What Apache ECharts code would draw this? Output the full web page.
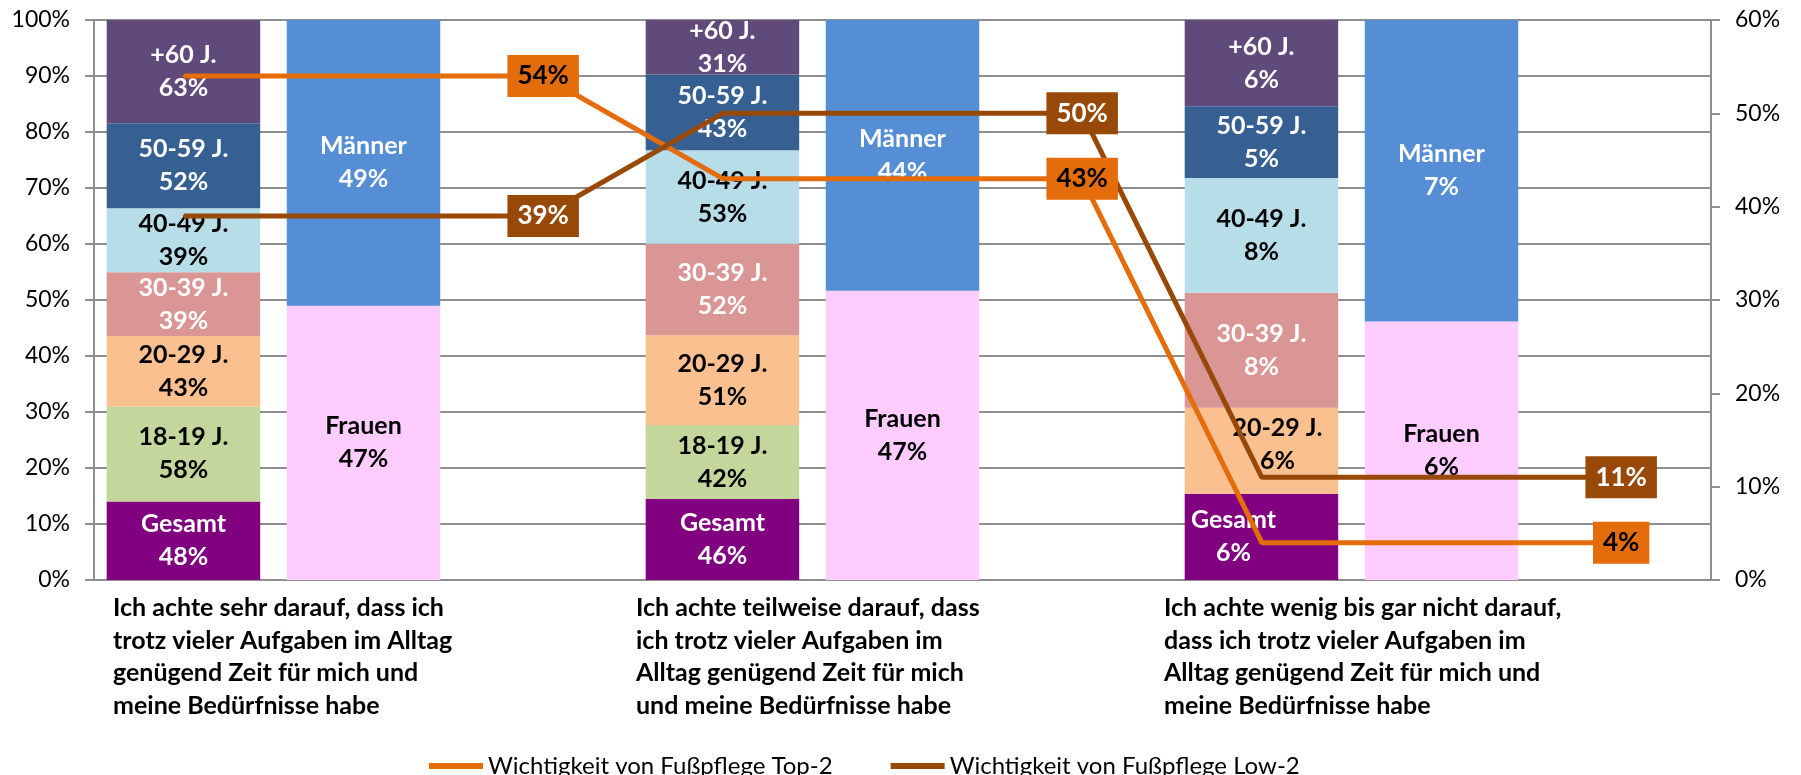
<!DOCTYPE html>
<html lang="de">
<head>
<meta charset="utf-8">
<title>Fußpflege – Zeit für mich</title>
<script src="https://cdn.jsdelivr.net/npm/echarts@6/dist/echarts.min.js"></script>
<style>
html, body { margin: 0; padding: 0; background: #fff; }
#main { width: 1801px; height: 775px; }
</style>
</head>
<body>
<div id="main"></div>
<script>
// Kategorien (Zeilenumbrüche wie im Original)
var categories = [
    'Ich achte sehr darauf, dass ich\ntrotz vieler Aufgaben im Alltag\ngenügend Zeit für mich und\nmeine Bedürfnisse habe',
    'Ich achte teilweise darauf, dass\nich trotz vieler Aufgaben im\nAlltag genügend Zeit für mich\nund meine Bedürfnisse habe',
    'Ich achte wenig bis gar nicht darauf,\ndass ich trotz vieler Aufgaben im\nAlltag genügend Zeit für mich und\nmeine Bedürfnisse habe'
];

// Altersgruppen, Werte = Beschriftung in %
var ageNames = ['Gesamt', '18-19 J.', '20-29 J.', '30-39 J.', '40-49 J.', '50-59 J.', '+60 J.'];
var gesamt  = [48, 46, 6];
var age1819 = [58, 42, null];
var age2029 = [43, 51, 6];
var age3039 = [39, 52, 8];
var age4049 = [39, 53, 8];
var age5059 = [52, 43, 5];
var age60   = [63, 31, 6];
var ageValues = [gesamt, age1819, age2029, age3039, age4049, age5059, age60];

// Geschlecht
var genderNames = ['Frauen', 'Männer'];
var frauen  = [47, 47, 6];
var maenner = [49, 44, 7];
var genderValues = [frauen, maenner];

// Linien (rechte Achse)
var top2Name = 'Wichtigkeit von Fußpflege Top-2';
var low2Name = 'Wichtigkeit von Fußpflege Low-2';
var top2 = [54, 43, 4];
var low2 = [39, 50, 11];

var ageColors = ['#800080', '#C3D69B', '#FAC090', '#D99694', '#B7DEE8', '#376092', '#604A7B'];
var ageText   = ['#fff', '#000', '#000', '#fff', '#000', '#fff', '#fff'];
var genderColors = ['#FFCCFF', '#558ED5'];
var genderText   = ['#000', '#fff'];
var gridColor = '#8f8f8f';
var font = 'Lato';

// Stapel auf 100 % normieren
function shares(groups) {
    var sums = categories.map(function (c, i) {
        return groups.reduce(function (s, g) { return s + (g[i] || 0); }, 0);
    });
    return groups.map(function (g) {
        return g.map(function (v, i) { return v == null ? '-' : v / sums[i] * 100; });
    });
}
var ageShares = shares(ageValues);
var genderShares = shares(genderValues);

// Linienpunkte: Mitte der Alters-Säule und rechts daneben (Beschriftung)
function linePoints(arr) {
    var out = [];
    arr.forEach(function (v) {
        out.push(v, '-', { value: v, label: { show: true } });
    });
    return out;
}
var slots = [];
categories.forEach(function (c, i) { slots.push(i + 'a', i + 'b', i + 'c'); });

var labelFont = { fontFamily: font, fontWeight: 'bold', fontSize: 25, lineHeight: 33 };

var series = [];
ageNames.forEach(function (name, k) {
    series.push({
        name: name,
        type: 'bar',
        stack: 'age',
        barWidth: 153.5,
        barGap: '17.3%',
        itemStyle: { color: ageColors[k] },
        label: Object.assign({
            show: true,
            position: 'inside',
            color: ageText[k],
            formatter: function (p) {
                return name + '\n' + ageValues[k][p.dataIndex] + '%';
            }
        }, labelFont),
        data: ageShares[k].map(function (v, i) {
            if (i === 2 && k === 0) return { value: v, label: { offset: [-28, 0] } };
            if (i === 2 && k === 2) return { value: v, label: { offset: [16, -6] } };
            return v;
        })
    });
});
genderNames.forEach(function (name, k) {
    series.push({
        name: name,
        type: 'bar',
        stack: 'gender',
        barWidth: 153.5,
        itemStyle: { color: genderColors[k] },
        label: Object.assign({
            show: true,
            position: 'inside',
            color: genderText[k],
            formatter: function (p) {
                return name + '\n' + genderValues[k][p.dataIndex] + '%';
            }
        }, labelFont),
        data: genderShares[k]
    });
});
// leere dritte Säule (Platz für Linienbeschriftung)
series.push({ name: 'leer', type: 'bar', stack: 'pad', barWidth: 153.5, data: ['-', '-', '-'] });

function lineSeries(name, values, color, textColor) {
    return {
        name: name,
        type: 'line',
        xAxisIndex: 1,
        yAxisIndex: 1,
        connectNulls: true,
        symbol: 'rect',
        symbolSize: 2,
        z: 5,
        lineStyle: { color: color, width: 5 },
        itemStyle: { color: color },
        label: {
            show: false,
            position: 'inside',
            backgroundColor: color,
            color: textColor,
            padding: [9, 10, 7, 10],
            fontFamily: font,
            fontWeight: 'bold',
            fontSize: 26,
            formatter: '{c}%'
        },
        data: linePoints(values)
    };
}
series.push(lineSeries(top2Name, top2, '#E46C0A', '#000'));
series.push(lineSeries(low2Name, low2, '#984807', '#fff'));

var catWidths = [501, 533, 555];
var rich = {};
catWidths.forEach(function (w, i) {
    rich['c' + i] = { width: w, align: 'left', fontFamily: font, fontWeight: 'bold', fontSize: 25, lineHeight: 32.5, color: '#000' };
});

var myChart = echarts.init(document.getElementById('main'));
myChart.setOption({
    animation: false,
    textStyle: { fontFamily: font },
    grid: { left: 94, right: 90, top: 20, bottom: 195, containLabel: false, outerBoundsMode: 'none' },
    legend: {
        data: [top2Name, low2Name],
        left: 424,
        top: 749,
        icon: 'rect',
        itemWidth: 54,
        itemHeight: 6,
        itemGap: 58,
        textStyle: { fontFamily: font, fontSize: 24, color: '#000' }
    },
    xAxis: [{
        type: 'category',
        data: categories,
        axisLine: { lineStyle: { color: gridColor, width: 2 } },
        axisTick: { show: false },
        axisLabel: {
            interval: 0,
            margin: 12,
            formatter: function (value, index) {
                return value.split('\n').map(function (l) { return '{c' + index + '|' + l + '}'; }).join('\n');
            },
            rich: rich
        }
    }, {
        type: 'category',
        data: slots,
        show: false
    }],
    yAxis: [{
        type: 'value',
        min: 0,
        max: 100,
        interval: 10,
        axisLine: { show: true, lineStyle: { color: gridColor, width: 2 } },
        axisTick: { show: true, length: 9, lineStyle: { color: gridColor, width: 2 } },
        splitLine: { lineStyle: { color: gridColor, width: 2 } },
        axisLabel: { formatter: '{value}%', fontFamily: font, fontSize: 23, color: '#000', margin: 24 }
    }, {
        type: 'value',
        min: 0,
        max: 60,
        interval: 10,
        axisLine: { show: true, lineStyle: { color: gridColor, width: 2 } },
        axisTick: { show: true, length: 9, lineStyle: { color: gridColor, width: 2 } },
        splitLine: { show: false },
        axisLabel: { formatter: '{value}%', fontFamily: font, fontSize: 23, color: '#000', margin: 24 }
    }],
    series: series
});
</script>
</body>
</html>
